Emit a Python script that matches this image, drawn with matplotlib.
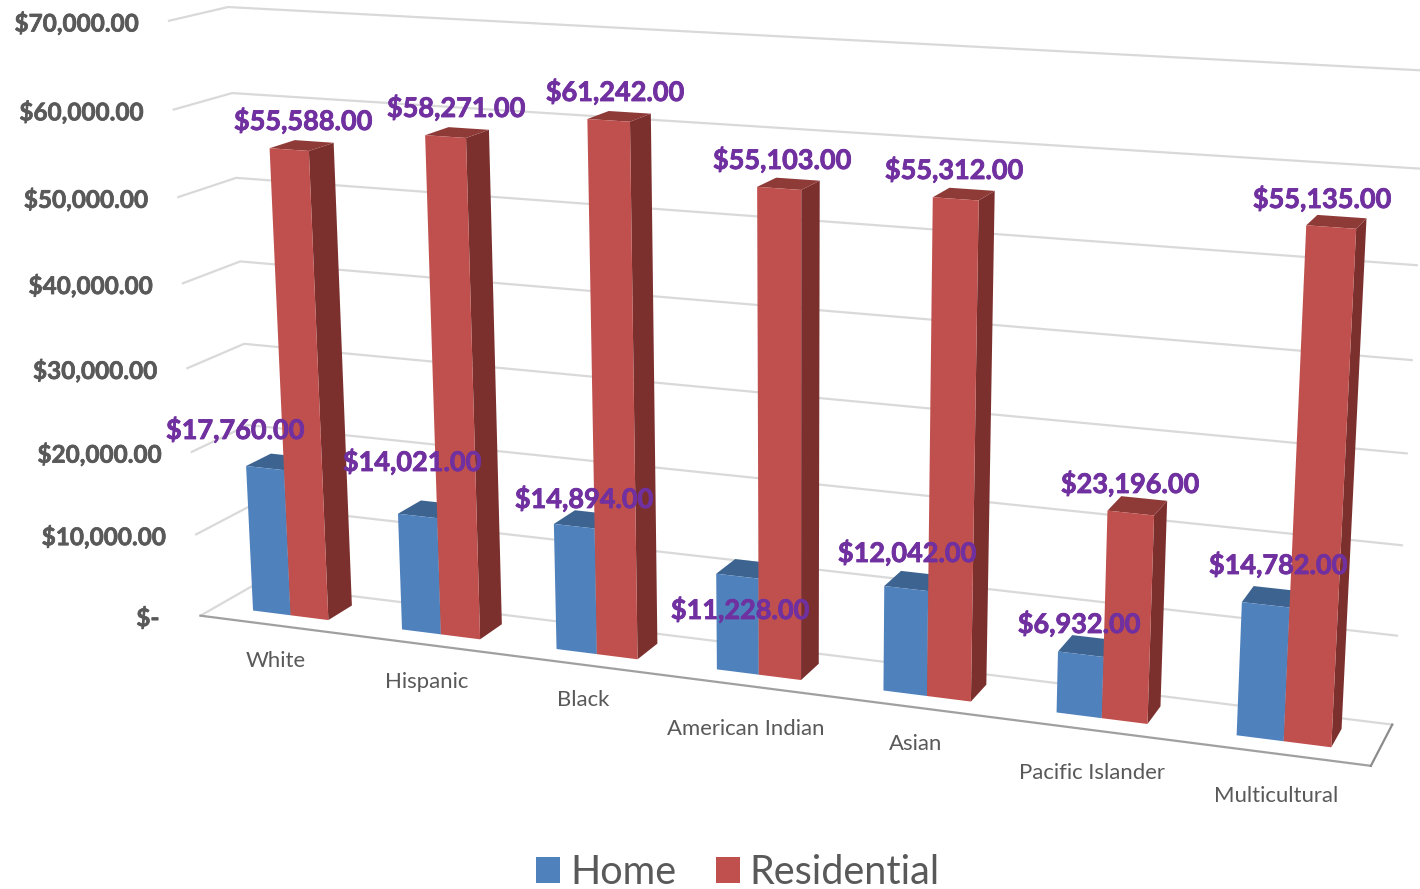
import numpy as np
import matplotlib
matplotlib.use("Agg")
import matplotlib.pyplot as plt
import matplotlib.patheffects as pe
from matplotlib.collections import PolyCollection
from matplotlib.patches import Patch

# ---- data
categories = ["White", "Hispanic", "Black", "American Indian", "Asian", "Pacific Islander", "Multicultural"]
home = [17760, 14021, 14894, 11228, 12042, 6932, 14782]
residential = [55588, 58271, 61242, 55103, 55312, 23196, 55135]
axis_ticks = [0, 10000, 20000, 30000, 40000, 50000, 60000, 70000]

# ---- layout: label centres in pixels
cat_xy = [(276, 661), (427, 682), (583, 700), (746, 729), (916, 744), (1092, 773), (1276, 796)]
res_xy = [(303, 121), (456, 108), (615, 92), (782, 160), (954, 170), (1130, 484), (1322, 199)]
home_xy = [(235, 430), (412, 462), (584, 499), (740, 610), (907, 553), (1079, 624), (1278, 565)]

# ---- camera calibration: (category, value, depth) -> pixel
calib = [
    ((0, 0, 0), (202, 614)), ((7, 0, 0), (1371, 767)), ((7, 0, 1), (1392, 724)),
    ((0, 0, 1), (254, 586)), ((0, 70000, 0), (168, 21)), ((0, 70000, 1), (229, 7)),
    ((7, 70000, 1), (1427, 71)), ((7, 10000, 1), (1397, 635)), ((0, 60000, 0), (173, 110)),
    ((0, 50000, 1), (237, 177)), ((7, 50000, 1), (1417, 265)),
]
A, b = [], []
for (u, v, w), (px, py) in calib:
    v = v / 1e4
    A.append([u, v, w, 1, 0, 0, 0, 0, -px*u, -px*v, -px*w]); b.append(px)
    A.append([0, 0, 0, 0, u, v, w, 1, -py*u, -py*v, -py*w]); b.append(py)
h = np.linalg.lstsq(np.array(A, float), np.array(b, float), rcond=None)[0]
P = np.append(h, 1).reshape(3, 4)


def proj(u, v, w):
    q = P @ np.array([u, v / 1e4, w, 1.0])
    return q[0] / q[2], q[1] / q[2]


fig = plt.figure(figsize=(14.2, 8.89), dpi=100)
ax = fig.add_axes([0, 0, 1, 1])
ax.set_xlim(0, 1420)
ax.set_ylim(889, 0)
ax.axis("off")

FONT = "Lato"
GRID = "#d9d9d9"
TXT = "#595959"

# walls: gridlines
for t in axis_ticks[1:]:
    pts = [proj(0, t, 0), proj(0, t, 1), proj(7, t, 1)]
    ax.plot(*zip(*pts), color=GRID, lw=1.6, zorder=1, clip_on=True, solid_joinstyle="miter")
# floor
ax.plot(*zip(proj(0, 0, 0), proj(0, 0, 1), proj(7, 0, 1)), color=GRID, lw=1.6, zorder=1)
ax.plot(*zip(proj(0, 0, 0), proj(7, 0, 0)), color="#a0a0a0", lw=1.6, zorder=1.5)
ax.plot(*zip(proj(7, 0, 0), proj(7, 0, 1)), color="#8c8c8c", lw=1.6, zorder=1.5)

# bars
W0, W1 = 0.30, 0.75
BW = 0.255


def bar(u0, u1, val, front, side, top, z):
    faces = [
        [proj(u1, 0, W0), proj(u1, 0, W1), proj(u1, val, W1), proj(u1, val, W0)],
        [proj(u0, val, W0), proj(u1, val, W0), proj(u1, val, W1), proj(u0, val, W1)],
        [proj(u0, 0, W0), proj(u1, 0, W0), proj(u1, val, W0), proj(u0, val, W0)],
    ]
    ax.add_collection(PolyCollection(faces, facecolors=[side, top, front], edgecolors="none",
                                     antialiaseds=True, zorder=z))


z = 2
for i in range(len(categories)):
    c = i + 0.5
    bar(c - BW, c, home[i], "#4F81BD", "#2F5078", "#3D6490", z)
    bar(c, c + BW, residential[i], "#C0504D", "#7B302E", "#8E3B38", z + 0.01)
    z += 0.1

# axis tick labels
for t in axis_ticks:
    x, y = proj(0, t, 0)
    s = f"${t:,.2f}" if t else "$-"
    ax.text(x - (31 if t else 41), y + 2.5, s, ha="right", va="center", family=FONT, fontweight="bold",
            fontsize=17.5, color=TXT, zorder=5,
            path_effects=[pe.withStroke(linewidth=0.5, foreground=TXT)])

# category labels
for s, (x, y) in zip(categories, cat_xy):
    ax.text(x, y, s, ha="center", va="center", family=FONT, fontsize=15.9, color=TXT, zorder=5)

# data labels
for vals, xy in ((home, home_xy), (residential, res_xy)):
    for val, (x, y) in zip(vals, xy):
        ax.text(x, y, f"${val:,.2f}", ha="center", va="center", family=FONT, fontweight="bold",
                fontsize=19.5, color="#7030A0", zorder=6,
                path_effects=[pe.withStroke(linewidth=0.6, foreground="#7030A0")])

# legend
handles = [Patch(facecolor="#4F81BD", label="Home"), Patch(facecolor="#C0504D", label="Residential")]
ax.legend(handles=handles, ncol=2, loc="center", bbox_to_anchor=(738 / 1420, 1 - 872.5 / 889),
          frameon=False, labelcolor=TXT, prop={"family": FONT, "size": 28.5},
          handlelength=0.606, handleheight=0.606, handletextpad=0.25, columnspacing=1.0, borderpad=0)

fig.savefig("out.png", dpi=100)
